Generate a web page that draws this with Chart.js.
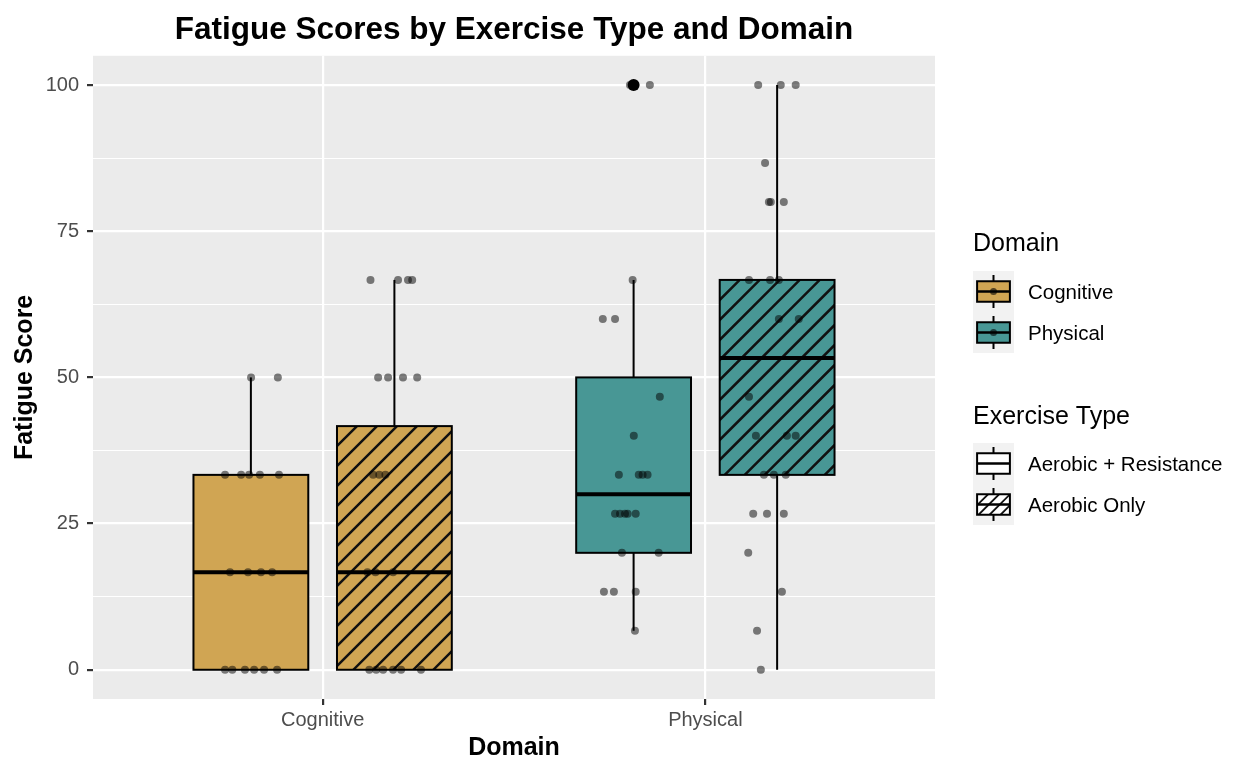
<!DOCTYPE html>
<html>
<head>
<meta charset="utf-8">
<script src="https://cdn.jsdelivr.net/npm/chart.js@4.4.1/dist/chart.umd.min.js"></script>
<style>
  html, body { margin: 0; padding: 0; background: #fff; }
</style>
</head>
<body>
<canvas id="chart" width="1233" height="760"></canvas>
<script>
const domains = ['Cognitive', 'Physical'];
const exerciseTypes = ['Aerobic + Resistance', 'Aerobic Only'];
const domainColors = ['#D0A553', '#489795'];
const yMajorTicks = [0, 25, 50, 75, 100];
const yMinorTicks = [12.5, 37.5, 62.5, 87.5];

// box stats: [lower whisker, Q1, median, Q3, upper whisker]
const cognitiveAerobicResistance = [0, 0, 16.67, 33.33, 50];
const cognitiveAerobicOnly = [0, 0, 16.67, 41.67, 66.67];
const physicalAerobicResistance = [6.67, 20, 30, 50, 66.67];
const physicalAerobicOnly = [0, 33.33, 53.33, 66.67, 100];
const physicalAerobicResistanceOutliers = [100];

// jittered observations: [position on domain axis, score]
const cognitiveAerobicResistancePoints = [
  [0.813, 50], [0.883, 50],
  [0.745, 33.33], [0.787, 33.33], [0.808, 33.33], [0.836, 33.33], [0.886, 33.33],
  [0.758, 16.67], [0.805, 16.67], [0.839, 16.67], [0.868, 16.67],
  [0.745, 0], [0.764, 0], [0.797, 0], [0.821, 0], [0.847, 0], [0.881, 0]
];
const cognitiveAerobicOnlyPoints = [
  [1.125, 66.67], [1.197, 66.67], [1.223, 66.67], [1.234, 66.67],
  [1.145, 50], [1.171, 50], [1.210, 50], [1.247, 50],
  [1.132, 33.33], [1.148, 33.33], [1.164, 33.33],
  [1.117, 16.67], [1.138, 16.67], [1.184, 16.67],
  [1.122, 0], [1.140, 0], [1.158, 0], [1.184, 0], [1.205, 0], [1.257, 0]
];
const physicalAerobicResistancePoints = [
  [1.803, 100], [1.855, 100], [1.810, 66.67], [1.732, 60], [1.764, 60],
  [1.881, 46.67], [1.813, 40],
  [1.774, 33.33], [1.826, 33.33], [1.836, 33.33], [1.849, 33.33],
  [1.764, 26.67], [1.777, 26.67], [1.790, 26.67], [1.797, 26.67], [1.818, 26.67],
  [1.782, 20], [1.878, 20], [1.735, 13.33], [1.761, 13.33], [1.818, 13.33], [1.816, 6.67]
];
const physicalAerobicOnlyPoints = [
  [2.138, 100], [2.197, 100], [2.236, 100], [2.156, 86.67],
  [2.166, 80], [2.171, 80], [2.205, 80],
  [2.114, 66.67], [2.169, 66.67], [2.192, 66.67], [2.192, 60], [2.244, 60],
  [2.114, 46.67], [2.132, 40], [2.213, 40], [2.236, 40],
  [2.153, 33.33], [2.179, 33.33], [2.210, 33.33],
  [2.125, 26.67], [2.161, 26.67], [2.205, 26.67],
  [2.112, 20], [2.200, 13.33], [2.135, 6.67], [2.145, 0]
];

const FONT = "'Liberation Sans', Arial, Helvetica, sans-serif";
Chart.defaults.font.family = FONT;

const dodge = [-0.1875, 0.1875];
const halfBox = 0.15;

const groups = [
  { domain: 0, type: 0, stats: cognitiveAerobicResistance, outliers: [], points: cognitiveAerobicResistancePoints },
  { domain: 0, type: 1, stats: cognitiveAerobicOnly, outliers: [], points: cognitiveAerobicOnlyPoints },
  { domain: 1, type: 0, stats: physicalAerobicResistance, outliers: physicalAerobicResistanceOutliers, points: physicalAerobicResistancePoints },
  { domain: 1, type: 1, stats: physicalAerobicOnly, outliers: [], points: physicalAerobicOnlyPoints }
];

// diagonal stripes clipped to a rectangle
function hatch(ctx, x0, y0, w, h, gap, lw) {
  ctx.save();
  ctx.beginPath();
  ctx.rect(x0, y0, w, h);
  ctx.clip();
  ctx.strokeStyle = '#111';
  ctx.lineWidth = lw;
  ctx.beginPath();
  for (let d = -h; d < w + h; d += gap) {
    ctx.moveTo(x0 + d, y0 + h);
    ctx.lineTo(x0 + d + h, y0);
  }
  ctx.stroke();
  ctx.restore();
}

function keyGlyph(ctx, left, top, size, fill, hatched, withPoint) {
  ctx.save();
  ctx.fillStyle = '#F2F2F2';
  ctx.fillRect(left, top, size, size);
  const bl = left + size * 0.1, br = left + size * 0.9;
  const bt = top + size * 0.25, bb = top + size * 0.75;
  const cx = left + size / 2, cy = top + size / 2;
  ctx.strokeStyle = '#000';
  ctx.lineWidth = 2;
  ctx.beginPath();
  ctx.moveTo(cx, top + size * 0.1); ctx.lineTo(cx, bt);
  ctx.moveTo(cx, bb); ctx.lineTo(cx, top + size * 0.9);
  ctx.stroke();
  ctx.fillStyle = fill;
  ctx.fillRect(bl, bt, br - bl, bb - bt);
  if (hatched) hatch(ctx, bl, bt, br - bl, bb - bt, 11, 1.8);
  ctx.strokeRect(bl, bt, br - bl, bb - bt);
  ctx.lineWidth = 2.5;
  ctx.beginPath();
  ctx.moveTo(bl, cy); ctx.lineTo(br, cy);
  ctx.stroke();
  if (withPoint) {
    ctx.fillStyle = 'rgba(0,0,0,0.6)';
    ctx.beginPath();
    ctx.arc(cx, cy, 3.5, 0, Math.PI * 2);
    ctx.fill();
  }
  ctx.restore();
}

const boxPlugin = {
  id: 'boxes',
  beforeDraw(chart) {
    const { ctx, chartArea: a } = chart;
    ctx.save();
    ctx.fillStyle = '#EBEBEB';
    ctx.fillRect(a.left, a.top, a.right - a.left, a.bottom - a.top);
    ctx.restore();
  },
  beforeDatasetsDraw(chart) {
    const { ctx, scales: { x, y } } = chart;
    groups.forEach(g => {
      const c = g.domain + 1 + dodge[g.type];
      const px = x.getPixelForValue(c);
      const l = x.getPixelForValue(c - halfBox);
      const r = x.getPixelForValue(c + halfBox);
      const [lo, q1, med, q3, hi] = g.stats.map(v => y.getPixelForValue(v));
      ctx.save();
      ctx.strokeStyle = '#000';
      ctx.lineWidth = 2;
      ctx.beginPath();
      ctx.moveTo(px, q3); ctx.lineTo(px, hi);
      ctx.moveTo(px, q1); ctx.lineTo(px, lo);
      ctx.stroke();
      ctx.fillStyle = domainColors[g.domain];
      ctx.fillRect(l, q3, r - l, q1 - q3);
      if (g.type === 1) hatch(ctx, l, q3, r - l, q1 - q3, 20, 2.5);
      ctx.strokeRect(l, q3, r - l, q1 - q3);
      ctx.lineWidth = 4;
      ctx.beginPath();
      ctx.moveTo(l, med); ctx.lineTo(r, med);
      ctx.stroke();
      ctx.restore();
    });
  },
  afterDraw(chart) {
    const { ctx } = chart;
    ctx.save();
    ctx.fillStyle = '#000';
    ctx.textBaseline = 'middle';
    ctx.font = '25px ' + FONT;
    ctx.fillText('Domain', 973, 244);
    ctx.fillText('Exercise Type', 973, 417);
    ctx.font = '20.5px ' + FONT;
    domains.forEach((d, i) => {
      keyGlyph(ctx, 973, 271 + i * 41, 41, domainColors[i], false, true);
      ctx.fillStyle = '#000';
      ctx.fillText(d, 1028, 293 + i * 41);
    });
    exerciseTypes.forEach((t, i) => {
      keyGlyph(ctx, 973, 443 + i * 41, 41, '#FFFFFF', i === 1, false);
      ctx.fillStyle = '#000';
      ctx.fillText(t, 1028, 465 + i * 41);
    });
    ctx.restore();
  }
};

const datasets = groups.map(g => ({
  data: g.points.map(p => ({ x: p[0], y: p[1] })),
  pointRadius: 4,
  pointBackgroundColor: 'rgba(0,0,0,0.5)',
  pointBorderWidth: 0
}));
// outliers go last so they are drawn beneath the jittered points
datasets.push({
  data: groups.flatMap(g => g.outliers.map(v => ({ x: g.domain + 1 + dodge[g.type], y: v }))),
  pointRadius: 6,
  pointBackgroundColor: '#000',
  pointBorderWidth: 0
});

new Chart(document.getElementById('chart'), {
  type: 'scatter',
  data: { datasets },
  options: {
    responsive: false,
    animation: false,
    layout: { padding: { left: 0, right: 298, top: 0, bottom: 0 } },
    plugins: {
      legend: { display: false },
      tooltip: { enabled: false },
      title: {
        display: true,
        text: 'Fatigue Scores by Exercise Type and Domain',
        fullSize: false,
        color: '#000',
        font: { size: 31.5, weight: 'bold' },
        padding: { top: 11, bottom: 7 }
      }
    },
    scales: {
      x: {
        type: 'linear',
        min: 0.4,
        max: 2.6,
        afterBuildTicks: s => { s.ticks = domains.map((d, i) => ({ value: i + 1 })); },
        afterFit: s => { s.height = 61; },
        border: { display: false },
        grid: { color: '#FFFFFF', lineWidth: 2.2, tickLength: 6, tickColor: '#333333' },
        ticks: {
          callback: v => domains[v - 1],
          color: '#4D4D4D',
          font: { size: 20 },
          padding: 3,
          maxRotation: 0,
          autoSkip: false
        },
        title: {
          display: true,
          text: 'Domain',
          color: '#000',
          font: { size: 25, weight: 'bold' },
          padding: { top: 0, bottom: -3 }
        }
      },
      y: {
        min: -5,
        max: 105,
        afterBuildTicks: s => {
          s.ticks = yMajorTicks.concat(yMinorTicks).sort((a, b) => a - b).map(v => ({ value: v }));
        },
        afterFit: s => { s.width = 93; },
        border: { display: false },
        grid: {
          color: '#FFFFFF',
          lineWidth: c => (yMajorTicks.includes(c.tick.value) ? 2.2 : 1.1),
          tickLength: 6,
          tickColor: c => (yMajorTicks.includes(c.tick.value) ? '#333333' : 'rgba(0,0,0,0)')
        },
        ticks: {
          callback: v => (yMajorTicks.includes(v) ? String(v) : ''),
          color: '#4D4D4D',
          font: { size: 20 },
          padding: 8,
          autoSkip: false
        },
        title: {
          display: true,
          text: 'Fatigue Score',
          color: '#000',
          font: { size: 25, weight: 'bold' },
          padding: { top: 10, bottom: 0 }
        }
      }
    }
  },
  plugins: [boxPlugin]
});
</script>
</body>
</html>
